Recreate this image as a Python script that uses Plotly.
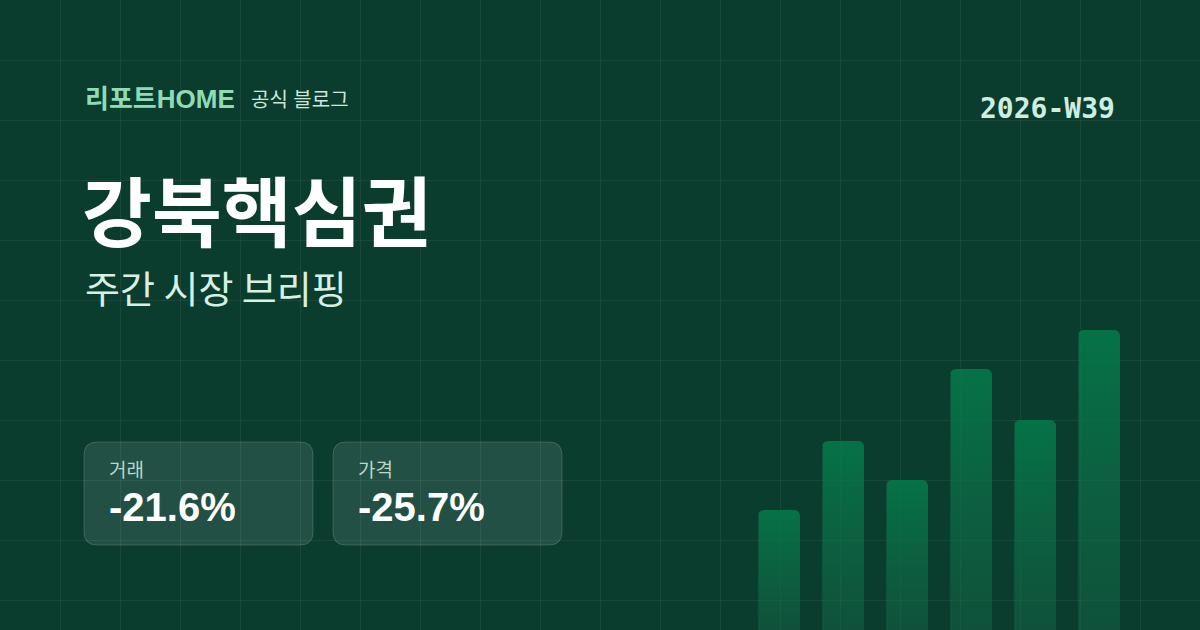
import numpy as np
import plotly.graph_objects as go

# weekly index values for the mini chart (relative, max = 100)
weeks = ['W34', 'W35', 'W36', 'W37', 'W38', 'W39']
volume_index = [40, 63, 50, 87, 70, 100]

# headline metrics
metric_labels = ['거래', '가격']
metric_values = ['-21.6%', '-25.7%']

BRAND = '리포트HOME'
BRAND_SUB = '공식 블로그'
WEEK_TAG = '2026-W39'
TITLE = '강북핵심권'
SUBTITLE = '주간 시장 브리핑'

BG = '#0b3d2f'
GRID = 'rgba(255,255,255,0.06)'
MINT = '#8fdcb4'
KR_FONT = 'Liberation Sans, Noto Sans CJK KR'

W, H = 1200, 630


def rounded_rect(x0, y0, x1, y1, r):
    """SVG path for a rounded rectangle (y grows downward)."""
    return (f'M {x0 + r},{y0} L {x1 - r},{y0} Q {x1},{y0} {x1},{y0 + r} '
            f'L {x1},{y1 - r} Q {x1},{y1} {x1 - r},{y1} L {x0 + r},{y1} '
            f'Q {x0},{y1} {x0},{y1 - r} L {x0},{y0 + r} Q {x0},{y0} {x0 + r},{y0} Z')


def bar_outline(c, v, half, rx, ry, n=8):
    t = np.linspace(np.pi, np.pi / 2, n)
    xs = [c - half] + list(c - half + rx + rx * np.cos(t))
    ys = [0] + list(v - ry + ry * np.sin(t))
    t2 = np.linspace(np.pi / 2, 0, n)
    xs += list(c + half - rx + rx * np.cos(t2)) + [c + half]
    ys += list(v - ry + ry * np.sin(t2)) + [0]
    return xs, ys


fig = go.Figure()

# invisible trace to hold the background grid axes
fig.add_trace(go.Scatter(x=[0, W], y=[0, H], mode='markers', marker={'opacity': 0},
                         hoverinfo='skip', xaxis='x', yaxis='y'))

y_top = 210
half_w = 0.328
for i, v in enumerate(volume_index):
    xs, ys = bar_outline(i, v, half_w, 6 / 64, 6 / 3)
    fig.add_trace(go.Scatter(
        x=xs, y=ys, mode='lines', line={'width': 0}, fill='toself',
        fillgradient={'type': 'vertical',
                      'colorscale': [[0, 'rgba(20,110,75,0.42)'], [1, 'rgba(4,122,74,0.87)']]},
        hoverinfo='skip', xaxis='x2', yaxis='y2', name=weeks[i]))

shapes = []
annotations = []

card_x = [84, 333]
for i, (lab, val) in enumerate(zip(metric_labels, metric_values)):
    x0 = card_x[i]
    shapes.append(dict(type='path', xref='x', yref='y',
                       path=rounded_rect(x0, 442, x0 + 229, 545, 13),
                       fillcolor='rgba(255,255,255,0.10)',
                       line={'color': 'rgba(255,255,255,0.16)', 'width': 1}, layer='below'))
    annotations.append(dict(x=x0 + 23, y=470, text=lab, showarrow=False, xanchor='left',
                            yanchor='middle', font={'family': KR_FONT, 'size': 19,
                                                    'color': 'rgba(215,240,228,0.85)'}))
    annotations.append(dict(x=x0 + 23, y=507, text=f'<b>{val}</b>', showarrow=False,
                            xanchor='left', yanchor='middle',
                            font={'family': KR_FONT, 'size': 40, 'color': '#ffffff'}))

annotations += [
    dict(x=83, y=99, text=f'<b>{BRAND}</b>', showarrow=False, xanchor='left', yanchor='middle',
         font={'family': KR_FONT, 'size': 26, 'color': MINT}),
    dict(x=249, y=100, text=BRAND_SUB, showarrow=False, xanchor='left', yanchor='middle',
         font={'family': KR_FONT, 'size': 20, 'color': '#cfe6da'}),
    dict(x=1117, y=108, text=f'<b>{WEEK_TAG}</b>', showarrow=False, xanchor='right',
         yanchor='middle', font={'family': 'DejaVu Sans Mono', 'size': 28, 'color': '#cdeee0'}),
    dict(x=80, y=208, text=f'<b>{TITLE}</b>', showarrow=False, xanchor='left', yanchor='middle',
         font={'family': 'Noto Sans CJK KR', 'size': 76, 'color': '#ffffff'}),
    dict(x=83, y=286, text=SUBTITLE, showarrow=False, xanchor='left', yanchor='middle',
         font={'family': 'Noto Sans CJK KR', 'size': 38, 'color': '#d7f0e4'}),
]

fig.update_layout(
    width=W, height=H, margin={'l': 0, 'r': 0, 't': 0, 'b': 0},
    paper_bgcolor=BG, plot_bgcolor='rgba(0,0,0,0)', showlegend=False,
    shapes=shapes, annotations=annotations,
    xaxis={'range': [0, W], 'domain': [0, 1], 'dtick': 60, 'tick0': 0, 'showgrid': True,
           'gridcolor': GRID, 'gridwidth': 1, 'zeroline': False, 'showticklabels': False,
           'fixedrange': True},
    yaxis={'range': [H, 0], 'domain': [0, 1], 'dtick': 60, 'tick0': 0, 'showgrid': True,
           'gridcolor': GRID, 'gridwidth': 1, 'zeroline': False, 'showticklabels': False,
           'fixedrange': True},
    xaxis2={'range': [-0.5, 5.5], 'domain': [747 / W, 1131 / W], 'anchor': 'y2',
            'visible': False, 'fixedrange': True},
    yaxis2={'range': [0, y_top], 'domain': [0, 1], 'anchor': 'x2', 'visible': False,
            'fixedrange': True},
)

fig.write_html('out.html', config={'displayModeBar': False},
               post_script="document.body.style.margin='0';")
